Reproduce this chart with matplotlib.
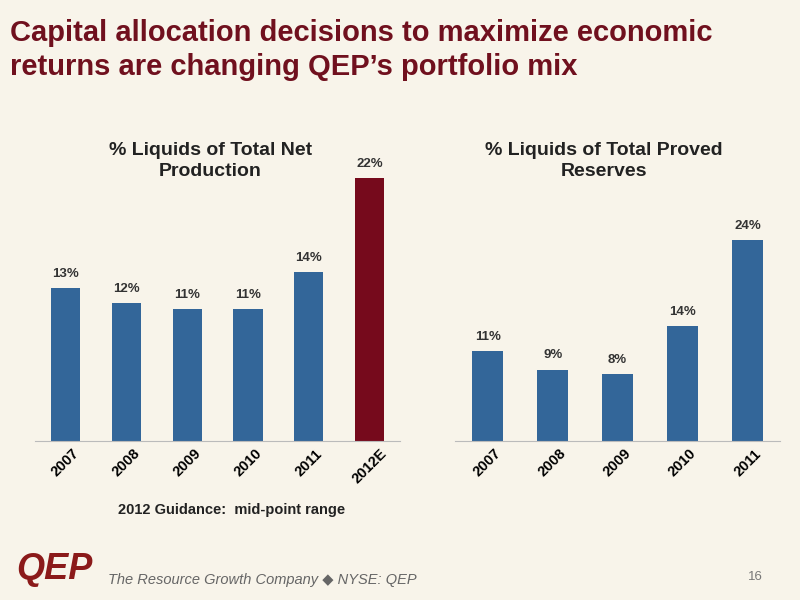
import matplotlib.pyplot as plt

plt.rcParams['font.family'] = ['Liberation Sans', 'DejaVu Sans']

BG = '#F8F4EA'
TITLE_RED = '#70101E'
BLUE = '#336699'
RED = '#760A1C'

prod_years = ['2007', '2008', '2009', '2010', '2011', '2012E']
prod_vals = [12.8, 11.5, 11.0, 11.0, 14.1, 22.0]
prod_labels = ['13%', '12%', '11%', '11%', '14%', '22%']

res_years = ['2007', '2008', '2009', '2010', '2011']
res_vals = [10.7, 8.5, 8.0, 13.7, 23.9]
res_labels = ['11%', '9%', '8%', '14%', '24%']

fig = plt.figure(figsize=(8, 6), dpi=100, facecolor=BG)

fig.text(0.012, 0.968, 'Capital allocation decisions to maximize economic\nreturns are changing QEP\u2019s portfolio mix',
         color=TITLE_RED, fontsize=21, fontweight='bold', va='top', ha='left', linespacing=1.25)


def panel(rect, years, vals, labels, colors, ymax, title, tx):
    ax = fig.add_axes(rect, facecolor=BG)
    x = range(len(years))
    bars = ax.bar(x, vals, width=0.48, color=colors)
    for b, lab in zip(bars, labels):
        ax.text(b.get_x() + b.get_width() / 2, b.get_height() + ymax * 0.03, lab,
                ha='center', va='bottom', fontsize=9.5, fontweight='bold', color='#333333')
    ax.set_ylim(0, ymax)
    ax.set_xlim(-0.5, len(years) - 0.5)
    ax.set_xticks(list(x))
    ax.set_xticklabels(years, rotation=45, fontsize=10.5, fontweight='bold', ha='center', va='top')
    ax.tick_params(axis='x', length=0, pad=4)
    ax.set_yticks([])
    for s in ['top', 'right', 'left']:
        ax.spines[s].set_visible(False)
    ax.spines['bottom'].set_color('#BBBBBB')
    fig.text(tx, 0.732, title, ha='center', va='center', fontsize=14, fontweight='bold',
             color='#222222', linespacing=1.3)
    return ax


panel([0.044, 0.265, 0.456, 0.452], prod_years, prod_vals, prod_labels,
      [BLUE] * 5 + [RED], 22.67, '% Liquids of Total Net\nProduction', 0.263)
panel([0.569, 0.265, 0.406, 0.452], res_years, res_vals, res_labels,
      [BLUE] * 5, 32.3, '% Liquids of Total Proved\nReserves', 0.755)

fig.text(0.29, 0.143, '2012 Guidance:  mid-point range', ha='center', fontsize=10.5,
         fontweight='bold', color='#222222')

fig.text(0.02, 0.035, 'QEP', color='#8B1A1A', fontsize=26, fontweight='bold', style='italic')
fig.text(0.135, 0.027, 'The Resource Growth Company \u25c6 NYSE: QEP', color='#666666',
         fontsize=10.5, style='italic')
fig.text(0.935, 0.033, '16', color='#777777', fontsize=9.5)

plt.savefig('out.png', dpi=100, facecolor=BG)
